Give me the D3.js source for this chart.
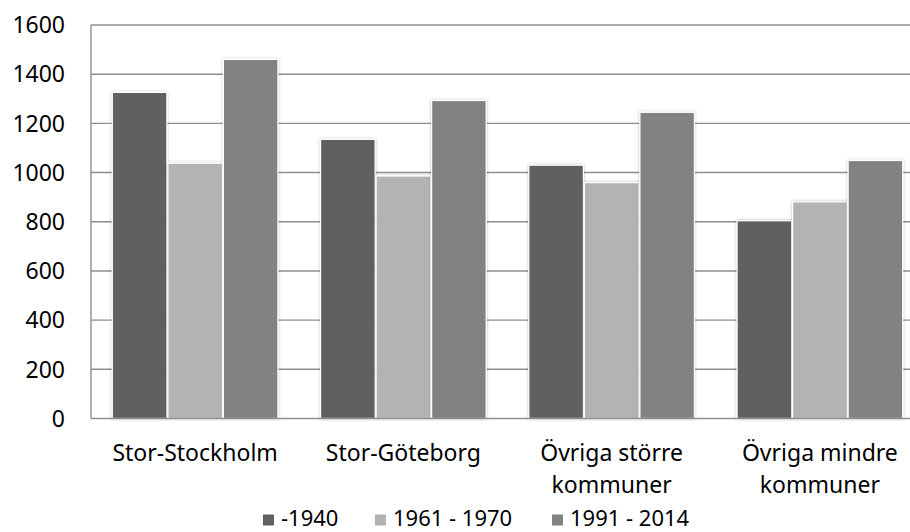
<!DOCTYPE html>
<html>
<head>
<meta charset="utf-8">
<script src="https://cdn.jsdelivr.net/npm/d3@7"></script>
<style>
  html, body { margin: 0; padding: 0; background: #fff; }
  svg { display: block; font-family: "Noto Sans", sans-serif; }
</style>
</head>
<body>
<svg id="chart" width="910" height="532"></svg>
<script>
const categories = ['Stor-Stockholm', 'Stor-Göteborg', 'Övriga större kommuner', 'Övriga mindre kommuner'];
const seriesNames = ['-1940', '1961 - 1970', '1991 - 2014'];
const values1940 = [1326, 1135, 1030, 804];
const values1961 = [1038, 986, 959, 881];
const values1991 = [1460, 1293, 1245, 1049];
const yTicks = [0, 200, 400, 600, 800, 1000, 1200, 1400, 1600];
const colors = ['#616161', '#b3b3b3', '#828282'];

const seriesValues = [values1940, values1961, values1991];
const W = 910, H = 532;
const plotLeft = 91, plotTop = 25, plotBottom = 418.5, plotRight = 924;
const fontSize = 23;

const svg = d3.select('#chart');

const defs = svg.append('defs');
const f = defs.append('filter').attr('id', 'glow').attr('x', '-20%').attr('y', '-20%').attr('width', '140%').attr('height', '140%');
f.append('feDropShadow').attr('dx', 0).attr('dy', 0).attr('stdDeviation', 1.6)
  .attr('flood-color', '#000').attr('flood-opacity', 0.28);

const x = d3.scaleBand().domain(categories).range([plotLeft, plotRight]).paddingInner(0.2).paddingOuter(0.1);
const xs = d3.scaleBand().domain(d3.range(seriesNames.length)).range([0, x.bandwidth()]);
const y = d3.scaleLinear().domain([0, 1600]).range([plotBottom, plotTop]);

// gridlines
svg.append('g')
  .selectAll('line')
  .data(yTicks.filter(d => d > 0))
  .join('line')
  .attr('x1', plotLeft).attr('x2', W)
  .attr('y1', d => y(d)).attr('y2', d => y(d))
  .attr('stroke', '#8e8e8e').attr('stroke-width', 1.4);

// y axis labels
svg.append('g')
  .selectAll('text')
  .data(yTicks)
  .join('text')
  .attr('x', 65).attr('y', d => y(d))
  .attr('dy', '0.36em')
  .attr('text-anchor', 'end')
  .attr('font-size', fontSize)
  .attr('fill', '#000')
  .text(d => d);

// bars
const groups = svg.append('g')
  .selectAll('g')
  .data(categories)
  .join('g')
  .attr('transform', d => `translate(${x(d)},0)`);

groups.selectAll('rect')
  .data((d, i) => seriesValues.map((s, k) => ({k: k, v: s[i]})))
  .join('rect')
  .attr('x', d => xs(d.k) + 0.5)
  .attr('y', d => y(d.v))
  .attr('width', xs.bandwidth() - 1)
  .attr('height', d => plotBottom - y(d.v))
  .attr('fill', d => colors[d.k])
  .attr('stroke', '#fff')
  .attr('stroke-width', 1.2)
  .attr('filter', 'url(#glow)');

// axes lines
svg.append('line')
  .attr('x1', plotLeft).attr('x2', plotLeft).attr('y1', plotTop).attr('y2', plotBottom)
  .attr('stroke', '#8e8e8e').attr('stroke-width', 1.4);
svg.append('line')
  .attr('x1', plotLeft).attr('x2', W).attr('y1', plotBottom).attr('y2', plotBottom)
  .attr('stroke', '#8e8e8e').attr('stroke-width', 1.4);

// category labels (wrapped to two lines for long names)
const labelLines = {
  'Övriga större kommuner': ['Övriga större', 'kommuner'],
  'Övriga mindre kommuner': ['Övriga mindre', 'kommuner']
};
const catText = svg.append('g')
  .selectAll('text')
  .data(categories)
  .join('text')
  .attr('text-anchor', 'middle')
  .attr('font-size', fontSize)
  .attr('fill', '#000');
catText.each(function (d) {
  const lines = labelLines[d] || [d];
  d3.select(this).selectAll('tspan')
    .data(lines)
    .join('tspan')
    .attr('x', x(d) + x.bandwidth() / 2)
    .attr('y', (l, i) => 461 + i * 32)
    .text(l => l);
});

// legend
const legendX = [263, 375, 552];
const legend = svg.append('g')
  .selectAll('g')
  .data(seriesNames)
  .join('g')
  .attr('transform', (d, i) => `translate(${legendX[i]},514.5)`);
legend.append('rect')
  .attr('width', 11).attr('height', 11)
  .attr('fill', (d, i) => colors[i]);
legend.append('text')
  .attr('x', 18).attr('y', 11.5)
  .attr('font-size', 22)
  .attr('fill', '#000')
  .text(d => d);
</script>
</body>
</html>
